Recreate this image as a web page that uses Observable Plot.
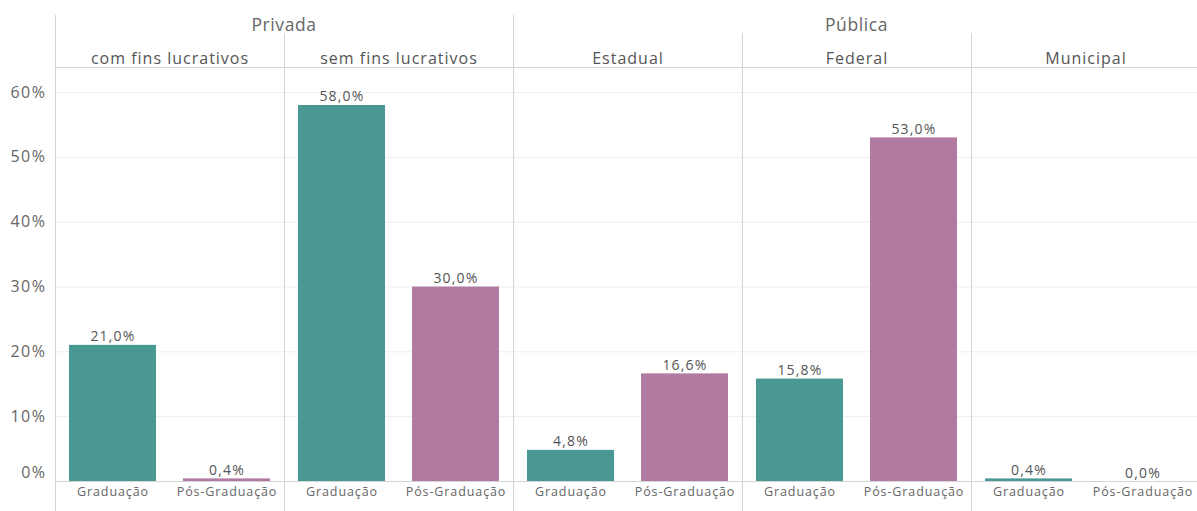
<!DOCTYPE html>
<html><head><meta charset="utf-8">
<script src="https://cdn.jsdelivr.net/npm/d3@7"></script>
<script src="https://cdn.jsdelivr.net/npm/@observablehq/plot@0.6"></script>
<style>
html,body{margin:0;padding:0;background:#fff;overflow:hidden}
g[aria-label="x-axis tick label"]{letter-spacing:0.9px}
g[aria-label="fx-axis tick label"]{letter-spacing:1px}
g[aria-label="y-axis tick label"]{letter-spacing:1.5px}
g[aria-label="text"]{letter-spacing:1.2px}
.sector{letter-spacing:0.6px}
</style>
</head><body><div id="chart"></div>
<script>
const subcategories = ["com fins lucrativos", "sem fins lucrativos", "Estadual", "Federal", "Municipal"];
const sectors = ["Privada", "Privada", "Pública", "Pública", "Pública"];
const levels = ["Graduação", "Pós-Graduação"];
const graduacao = [0.210, 0.580, 0.048, 0.158, 0.004];
const posGraduacao = [0.004, 0.300, 0.166, 0.530, 0.000];
const yTicks = [0.1, 0.2, 0.3, 0.4, 0.5, 0.6];
const colors = ["#499894", "#b07aa1"];

const rows = subcategories.flatMap((s, i) => [
  {sub: s, sector: sectors[i], level: levels[0], value: graduacao[i]},
  {sub: s, sector: sectors[i], level: levels[1], value: posGraduacao[i]}
]);
const fmt = v => (v * 100).toFixed(1).replace(".", ",") + "%";
const pct = d => Math.round(d * 100) + "%";

const W = 1200, H = 511, ML = 55, MT = 67, MB = 30;
const FONT = "'Open Sans', sans-serif";
const LINE = "#d4d4d4";

const chart = Plot.plot({
  width: W, height: H, marginLeft: ML, marginRight: 0, marginTop: MT, marginBottom: MB,
  style: {fontFamily: FONT, maxWidth: "none", color: "#666", background: "#fff", overflow: "visible"},
  fx: {domain: subcategories, paddingInner: 0, paddingOuter: 0, axis: null, label: null},
  x: {domain: levels, paddingInner: 0.24, paddingOuter: 0.12, axis: null, label: null},
  y: {domain: [0, 0.6386], axis: null, label: null},
  color: {domain: levels, range: colors},
  marks: [
    Plot.gridY(yTicks, {stroke: "#eeeeee", strokeOpacity: 1}),
    Plot.frame({anchor: "top", stroke: LINE, strokeOpacity: 1}),
    Plot.frame({anchor: "left", stroke: LINE, strokeOpacity: 1, insetTop: -34, insetBottom: -MB}),
    Plot.barY(rows, {fx: "sub", x: "level", y: "value", fill: "level"}),
    Plot.ruleY([0], {stroke: LINE}),
    Plot.text(rows, {fx: "sub", x: "level", y: "value", text: d => fmt(d.value), dy: -4, lineAnchor: "bottom", fontSize: 14, fill: "#555"}),
    Plot.axisY(yTicks, {tickSize: 0, tickPadding: 9, fontSize: 16, tickFormat: pct, fill: "#666", label: null}),
    Plot.axisY([0], {tickSize: 0, tickPadding: 9, fontSize: 16, tickFormat: pct, fill: "#666", dy: -9, label: null}),
    Plot.axisX({anchor: "bottom", tickSize: 0, tickPadding: 6, fontSize: 12.5, fill: "#666", label: null}),
    Plot.axisFx({anchor: "top", tickSize: 0, tickPadding: 4, fontSize: 16, fill: "#555", label: null})
  ]
});

// Top header row (sector groups), positioned with Plot's fx scale
const fx = chart.scale("fx");
const svg = d3.select(chart);
const groups = d3.groups(subcategories.map((s, i) => ({s, g: sectors[i]})), d => d.g);
for (const [g, items] of groups) {
  const x0 = fx.apply(items[0].s);
  const x1 = fx.apply(items[items.length - 1].s) + fx.bandwidth;
  svg.append("line").attr("x1", x0 + 0.5).attr("x2", x0 + 0.5).attr("y1", 15).attr("y2", 34)
    .attr("stroke", LINE);
  svg.append("text").attr("class", "sector").attr("x", (x0 + x1) / 2).attr("y", 31)
    .attr("text-anchor", "middle").attr("font-size", 17.5).attr("fill", "#666")
    .attr("font-family", FONT).text(g);
}
document.getElementById("chart").append(chart);
</script>
</body></html>
